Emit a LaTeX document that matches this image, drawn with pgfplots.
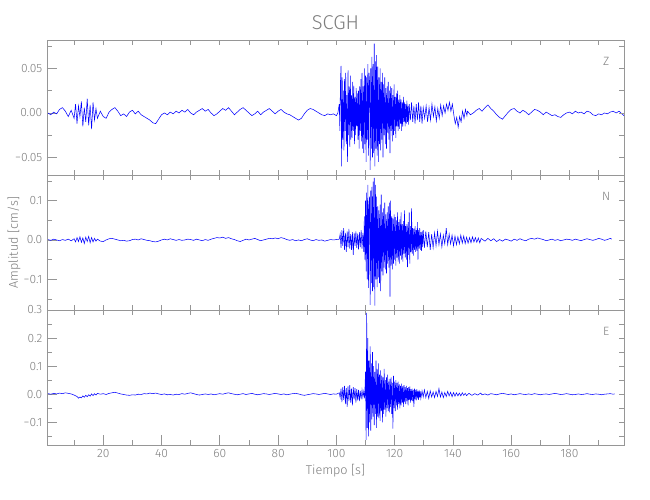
\documentclass[border=0pt]{standalone}
\usepackage{fontspec}
\setmainfont{Fira Sans}[UprightFont={* Light}]
\usepackage{pgfplots}
\pgfplotsset{compat=1.18}

\definecolor{axgray}{RGB}{150,150,150}
\definecolor{txtgray}{RGB}{125,125,125}
\definecolor{trace}{RGB}{0,0,255}

\pgfplotsset{
  seis/.style={
    scale only axis, width=432.75pt, height=101.25pt,
    anchor=north west, xmin=0.7, xmax=198.7,
    scaled y ticks=false, scaled x ticks=false,
    axis line style={axgray, line width=0.5pt},
    tick style={axgray, line width=0.5pt},
    tick label style={txtgray, font=\fontsize{9}{10}\selectfont},
    xtick={20,40,...,180}, minor xtick={10,30,...,190},
  },
  longticks/.style={major tick length=7.5pt, minor tick length=3.75pt},
  shortticks/.style={major tick length=3.5pt, minor tick length=3.5pt,
    xticklabels={}, yticklabels={}, clip=false},
  sig/.style={trace, line width=0.4pt},
}

\begin{document}
\begin{tikzpicture}
\useasboundingbox (0,0) rectangle (487.5pt,-375pt);

% ---------------- Z ----------------
\begin{axis}[seis, longticks, at={(35.25pt,-30pt)},
  ymin=-0.0697, ymax=0.082,
  ytick={-0.05,0,0.05}, yticklabels={−0.05,0.00,0.05},
  minor ytick={-0.075,-0.025,0.025,0.075},
  ytick pos=left, xtick=\empty]
\addplot[sig] coordinates {
(1,0.000)(2,-0.002)(3,0.001)(4,-0.001)(5,0.004)(6,0.006)(7,0.002)(8,-0.004)(9,0.003)(10,-0.006)
(10.5,0.010)(11,-0.012)(11.5,0.008)(12,-0.004)(12.5,0.013)(13,-0.015)(13.5,0.006)(14,-0.010)(14.5,0.016)(15,-0.014)
(15.5,0.009)(16,-0.018)(16.5,0.012)(17,-0.008)(17.5,0.005)(18,-0.006)(19,0.002)(20,-0.004)(21,-0.006)(22,0.001)
(23,0.004)(24,0.006)(25,0.002)(26,-0.003)(27,-0.001)(28,-0.004)(29,0.001)(30,0.003)(31,-0.001)(32,0.002)
(33,-0.002)(34,-0.004)(35,-0.006)(36,-0.008)(37,-0.011)(38,-0.012)(39,-0.007)(40,-0.002)(41,0.000)(42,-0.002)
(43,0.001)(44,-0.001)(45,0.002)(46,0.000)(47,0.003)(48,0.001)(49,0.004)(50,0.000)(51,-0.002)(52,0.001)
(53,0.003)(54,0.005)(55,0.002)(56,0.004)(57,0.000)(58,-0.003)(59,-0.001)(60,0.002)(61,0.005)(62,0.003)
(63,0.006)(64,0.002)(65,-0.002)(66,0.001)(67,0.004)(68,0.006)(69,0.003)(70,0.000)(71,-0.003)(72,-0.001)
(73,0.002)(74,-0.002)(75,0.001)(76,0.003)(77,0.005)(78,0.002)(79,-0.001)(80,0.002)(81,0.004)(82,0.001)
(83,-0.001)(84,-0.002)(85,-0.004)(86,-0.006)(87,-0.008)(88,-0.006)(89,-0.001)(90,0.003)(91,0.005)(92,0.004)
(93,0.002)(94,0.000)(95,-0.002)(96,-0.003)(97,-0.001)(98,-0.002)(99,-0.001)(100,-0.003)(100.5,0.000)
(101.0,0.010)(101.2,-0.020)(101.4,0.035)(101.6,0.053)(101.8,-0.060)(102.0,0.040)(102.2,-0.030)(102.4,0.025)
(102.6,-0.042)(102.8,0.038)(103.0,-0.020)(103.2,0.045)(103.4,-0.035)(103.6,0.020)(103.8,-0.055)(104.0,0.048)
(104.2,-0.025)(104.4,0.030)(104.6,-0.038)(104.8,0.042)(105.0,-0.030)(105.2,0.020)(105.4,-0.028)(105.6,0.035)
(105.8,-0.020)(106.0,0.030)(106.2,-0.035)(106.4,0.018)(106.6,-0.025)(106.8,0.028)(107.0,-0.015)(107.2,0.022)
(107.4,-0.030)(107.6,0.025)(107.8,-0.040)(108.0,0.030)(108.2,-0.020)(108.4,0.038)(108.6,-0.032)(108.8,0.045)
(109.0,-0.040)(109.2,0.030)(109.4,-0.045)(109.6,0.050)(109.8,-0.035)(110.0,0.042)(110.2,-0.055)(110.4,0.040)
(110.6,-0.030)(110.8,0.055)(111.0,-0.048)(111.2,0.045)(111.4,0.035)(111.6,-0.064)(111.8,0.050)(112.0,-0.040)
(112.2,0.063)(112.4,-0.050)(112.6,0.055)(112.8,-0.045)(113.0,0.078)(113.2,-0.060)(113.4,0.058)(113.6,-0.040)
(113.8,0.065)(114.0,-0.048)(114.2,0.052)(114.4,-0.055)(114.6,0.040)(114.8,-0.035)(115.0,0.050)(115.2,-0.042)
(115.4,0.035)(115.6,-0.030)(115.8,0.045)(116.0,-0.050)(116.2,0.032)(116.4,-0.025)(116.6,0.040)(116.8,-0.035)
(117.0,0.028)(117.2,-0.040)(117.4,0.030)(117.6,-0.022)(117.8,0.035)(118.0,-0.030)(118.2,0.025)(118.4,-0.045)
(118.6,0.030)(118.8,-0.020)(119.0,0.028)(119.2,-0.032)(119.4,0.020)(119.6,-0.025)(119.8,0.032)(120.0,-0.020)
(120.2,0.018)(120.4,-0.028)(120.6,0.022)(120.8,-0.015)(121.0,0.025)(121.2,-0.020)(121.4,0.015)(121.6,-0.018)
(121.8,0.020)(122.0,-0.012)(122.2,0.015)(122.4,-0.020)(122.6,0.012)(122.8,-0.015)(123.0,0.018)(123.2,-0.010)
(123.4,0.012)(123.6,-0.015)(123.8,0.010)(124.0,-0.012)(124.2,0.014)(124.4,-0.010)(124.6,0.008)(124.8,-0.013)
(125.0,0.010)(125.4,-0.008)(125.8,0.012)(126.2,-0.010)(126.6,0.008)(127.0,-0.012)(127.4,0.010)(127.8,-0.008)
(128.2,0.012)(128.6,-0.010)(129.0,0.008)(129.4,-0.012)(129.8,0.006)
(130.3,-0.006)(130.8,0.008)(131.3,-0.010)(131.8,0.006)(132.3,-0.008)(132.8,0.010)(133.3,-0.004)(133.8,0.007)
(134.3,-0.009)(134.8,0.005)(135.3,-0.006)(135.8,0.009)(136.3,-0.003)(136.8,0.008)(137.3,0.000)(137.8,0.010)
(138.3,0.003)(138.8,0.012)(139.3,0.002)(139.8,0.010)(140.3,-0.002)(140.8,-0.012)(141.3,-0.005)(141.8,-0.016)
(142.3,-0.004)(142.8,-0.010)(143.3,0.002)(143.8,-0.006)(144.3,0.004)(144.8,-0.003)
(145,0.002)(146,-0.002)(147,0.000)(148,0.003)(149,0.005)(150,0.002)(151,0.006)(152,0.009)(153,0.005)(154,0.002)
(155,-0.002)(156,-0.005)(157,-0.007)(158,-0.003)(159,0.001)(160,0.004)(161,0.005)(162,0.002)(163,0.000)(164,0.003)
(165,0.001)(166,-0.002)(167,0.001)(168,0.004)(169,0.003)(170,0.001)(171,-0.002)(172,0.001)(173,-0.001)(174,-0.003)
(175,-0.002)(176,-0.004)(177,-0.005)(178,-0.002)(179,0.000)(180,0.001)(181,-0.001)(182,0.002)(183,0.000)(184,0.001)
(185,-0.001)(186,0.002)(187,0.001)(188,-0.002)(189,-0.003)(190,-0.001)(191,-0.002)(192,0.000)(193,-0.001)(194,0.001)
(195,0.002)(196,0.000)(197,0.002)(198,-0.001)(198.7,-0.003)
};
\end{axis}
\begin{axis}[seis, shortticks, at={(35.25pt,-30pt)},
  ymin=-0.0697, ymax=0.082,
  ytick={-0.05,0,0.05}, minor ytick={-0.075,-0.025,0.025,0.075},
  ytick pos=right, xtick pos=both]
\node[txtgray, font=\fontsize{9}{10}\selectfont] at (rel axis cs:0.969,0.844) {Z};
\end{axis}

% ---------------- N ----------------
\begin{axis}[seis, longticks, at={(35.25pt,-131.25pt)},
  ymin=-0.178, ymax=0.165,
  ytick={-0.1,0,0.1}, yticklabels={−0.1,0.0,0.1},
  minor ytick={-0.15,-0.05,0.05,0.15},
  ytick pos=left, xtick=\empty]
\addplot[sig] coordinates {
(1,0.001)(2,-0.001)(3,0.002)(4,0.000)(5,-0.002)(6,0.001)(7,-0.001)(8,0.002)(9,-0.002)(10,0.003)
(10.5,-0.005)(11,0.006)(11.5,-0.004)(12,0.008)(12.5,-0.006)(13,0.005)(13.5,-0.009)(14,0.007)(14.5,-0.004)(15,0.009)
(15.5,-0.007)(16,0.006)(16.5,-0.005)(17,0.004)(17.5,-0.003)(18,0.002)(19,-0.003)(20,-0.004)(21,0.000)(22,0.003)
(23,0.004)(24,0.002)(25,0.000)(26,-0.002)(27,-0.001)(28,-0.003)(29,-0.002)(30,0.001)(31,0.002)(32,0.000)
(33,0.003)(34,0.001)(35,-0.001)(36,-0.002)(37,-0.004)(38,-0.005)(39,-0.003)(40,0.000)(41,0.002)(42,0.000)
(43,0.003)(44,0.001)(45,-0.001)(46,0.001)(47,-0.001)(48,0.000)(49,0.002)(50,0.001)(51,-0.001)(52,0.002)
(53,0.000)(54,-0.002)(55,0.001)(56,-0.001)(57,0.002)(58,0.004)(59,0.006)(60,0.005)(61,0.007)(62,0.004)
(63,0.006)(64,0.003)(65,0.001)(66,-0.002)(67,-0.004)(68,-0.001)(69,0.002)(70,0.000)(71,0.002)(72,0.004)
(73,0.001)(74,-0.002)(75,0.000)(76,0.002)(77,0.004)(78,0.003)(79,0.005)(80,0.003)(81,0.006)(82,0.004)
(83,0.001)(84,-0.001)(85,0.001)(86,-0.002)(87,0.000)(88,-0.002)(89,0.001)(90,0.003)(91,0.000)(92,-0.002)
(93,0.001)(94,-0.001)(95,0.000)(96,-0.003)(97,-0.001)(98,0.001)(99,0.000)(100,0.001)
(101.0,0.002)(101.3,0.015)(101.6,-0.020)(101.9,0.025)(102.2,-0.015)(102.5,0.030)(102.8,-0.025)(103.1,0.018)
(103.4,-0.030)(103.7,0.022)(104.0,-0.018)(104.3,0.028)(104.6,-0.022)(104.9,0.015)(105.2,-0.025)(105.5,0.020)
(105.8,-0.038)(106.1,0.018)(106.4,-0.015)(106.7,0.022)(107.0,-0.020)(107.3,0.016)(107.6,-0.024)(107.9,0.020)
(108.2,-0.018)(108.5,0.025)(108.8,-0.022)(109.1,0.018)(109.4,-0.030)
(109.6,0.060)(109.8,-0.050)(110.0,0.100)(110.2,-0.080)(110.4,0.120)(110.6,-0.100)(110.8,0.140)(111.0,-0.122)
(111.2,0.090)(111.4,0.110)(111.6,-0.165)(111.8,0.125)(112.0,-0.110)(112.2,0.135)(112.4,-0.130)(112.6,0.148)
(112.8,-0.120)(113.0,0.158)(113.2,-0.167)(113.4,0.140)(113.6,-0.100)(113.8,0.110)(114.0,-0.120)(114.2,0.085)
(114.4,-0.095)(114.6,0.075)(114.8,-0.110)(115.0,0.090)(115.2,-0.130)(115.4,0.115)(115.6,-0.080)(115.8,0.070)
(116.0,-0.090)(116.2,0.080)(116.4,-0.070)(116.6,0.095)(116.8,-0.075)(117.0,0.065)(117.2,-0.085)(117.4,0.070)
(117.6,-0.060)(117.8,0.085)(118.0,-0.070)(118.2,0.095)(118.4,-0.144)(118.6,0.100)(118.8,-0.065)(119.0,0.060)
(119.2,-0.075)(119.4,0.055)(119.6,-0.060)(119.8,0.065)(120.0,-0.050)(120.2,0.058)(120.4,-0.065)(120.6,0.050)
(120.8,-0.045)(121.0,0.070)(121.2,-0.055)(121.4,0.045)(121.6,-0.060)(121.8,0.052)(122.0,-0.040)(122.2,0.070)
(122.4,-0.050)(122.6,0.040)(122.8,-0.055)(123.0,0.048)(123.2,-0.035)(123.4,0.075)(123.6,-0.045)(123.8,0.035)
(124.0,-0.050)(124.2,0.040)(124.4,-0.069)(124.6,0.045)(124.8,-0.038)(125.0,0.070)(125.2,-0.060)(125.4,0.035)
(125.6,-0.030)(125.8,0.080)(126.0,-0.035)(126.2,0.030)(126.4,-0.040)(126.6,0.028)(126.8,-0.025)(127.0,0.035)
(127.2,-0.030)(127.4,0.025)(127.6,-0.028)(127.8,0.045)(128.0,-0.050)(128.2,0.025)(128.4,-0.022)(128.6,0.030)
(128.8,-0.025)(129.0,0.020)(129.2,-0.028)(129.4,0.022)(129.6,-0.018)(129.8,0.025)
(130.2,-0.020)(130.7,0.022)(131.2,-0.018)(131.7,0.020)(132.2,-0.025)(132.7,0.015)(133.2,-0.020)(133.7,0.018)
(134.2,-0.015)(134.7,0.022)(135.2,-0.012)(135.7,0.015)(136.2,-0.018)(136.7,0.012)(137.2,-0.010)(137.7,0.030)
(138.2,-0.012)(138.7,0.015)(139.2,-0.010)(139.7,0.012)(140.2,-0.015)(140.7,0.010)(141.2,-0.012)(141.7,0.008)
(142.2,-0.010)(142.7,0.012)(143.2,-0.008)(143.7,0.010)(144.2,-0.009)(144.7,0.007)(145.2,-0.008)(145.7,0.006)
(146.2,-0.007)(146.7,0.008)(147.2,-0.005)(147.7,0.006)(148.2,-0.006)(148.7,0.005)(149.2,-0.007)(149.7,0.004)
(150,0.002)(151,-0.003)(152,0.004)(153,-0.002)(154,0.003)(155,-0.004)(156,0.001)(157,-0.003)(158,0.002)(159,0.000)
(160,-0.003)(161,0.002)(162,-0.001)(163,0.003)(164,0.000)(165,-0.002)(166,0.002)(167,0.004)(168,0.002)(169,0.005)
(170,0.003)(171,0.001)(172,-0.002)(173,0.000)(174,0.002)(175,-0.001)(176,0.001)(177,-0.002)(178,0.000)(179,0.002)
(180,0.001)(181,-0.001)(182,0.002)(183,0.000)(184,-0.002)(185,0.001)(186,0.003)(187,0.001)(188,-0.001)(189,0.001)
(190,0.004)(191,0.002)(192,-0.001)(193,0.001)(194,0.004)(194.5,0.002)
};
\end{axis}
\begin{axis}[seis, shortticks, at={(35.25pt,-131.25pt)},
  ymin=-0.178, ymax=0.165,
  ytick={-0.1,0,0.1}, minor ytick={-0.15,-0.05,0.05,0.15},
  ytick pos=right, xtick pos=both]
\node[txtgray, font=\fontsize{9}{10}\selectfont] at (rel axis cs:0.969,0.844) {N};
\end{axis}

% ---------------- E ----------------
\begin{axis}[seis, longticks, at={(35.25pt,-232.5pt)},
  ymin=-0.181, ymax=0.3,
  ytick={-0.1,0,0.1,0.2,0.3}, yticklabels={−0.1,0.0,0.1,0.2,0.3},
  minor ytick={-0.15,-0.05,0.05,0.15,0.25},
  ytick pos=left, xtick pos=bottom,
  xticklabels={20,40,60,80,100,120,140,160,180}]
\addplot[sig] coordinates {
(1,0.002)(2,0.000)(3,0.003)(4,0.001)(5,0.004)(6,0.002)(7,0.005)(8,0.003)(9,0.001)(10,-0.003)
(11,-0.008)(11.5,-0.014)(12,-0.010)(12.5,-0.013)(13,-0.006)(13.5,-0.011)(14,-0.004)(14.5,-0.009)(15,-0.002)(15.5,-0.007)
(16,0.001)(16.5,-0.005)(17,0.002)(17.5,-0.003)(18,0.003)(19,0.000)(20,0.002)(21,-0.001)(22,0.003)(23,0.005)
(24,0.007)(25,0.004)(26,0.001)(27,-0.001)(28,-0.003)(29,-0.004)(30,-0.002)(31,-0.003)(32,0.000)(33,-0.001)
(34,0.002)(35,0.001)(36,0.004)(37,0.002)(38,0.004)(39,0.001)(40,-0.001)(41,0.001)(42,-0.002)(43,-0.001)
(44,-0.003)(45,0.000)(46,-0.001)(47,0.002)(48,0.000)(49,0.003)(50,0.005)(51,0.002)(52,-0.001)(53,-0.003)
(54,-0.001)(55,0.001)(56,-0.001)(57,0.001)(58,-0.002)(59,0.000)(60,0.002)(61,0.000)(62,0.003)(63,0.005)
(64,0.002)(65,0.000)(66,-0.002)(67,0.000)(68,0.002)(69,-0.001)(70,0.001)(71,0.003)(72,0.000)(73,-0.002)
(74,0.000)(75,0.002)(76,0.001)(77,-0.001)(78,0.001)(79,0.003)(80,0.001)(81,-0.001)(82,0.001)(83,-0.002)
(84,0.000)(85,0.002)(86,0.003)(87,0.001)(88,-0.002)(89,-0.004)(90,-0.002)(91,0.000)(92,0.002)(93,0.001)
(94,-0.001)(95,0.001)(96,0.003)(97,0.001)(98,-0.001)(99,0.001)(100,0.000)
(101.0,0.005)(101.3,-0.012)(101.6,0.020)(101.9,-0.028)(102.2,0.025)(102.5,-0.020)(102.8,0.030)(103.1,-0.035)
(103.4,0.022)(103.7,-0.045)(104.0,0.028)(104.3,-0.025)(104.6,0.032)(104.9,-0.030)(105.2,0.020)(105.5,-0.040)
(105.8,0.025)(106.1,-0.018)(106.4,0.022)(106.7,-0.030)(107.0,0.018)(107.3,-0.022)(107.6,0.015)(107.9,-0.025)
(108.2,0.012)(108.5,-0.018)(108.8,0.015)(109.1,-0.012)(109.4,0.010)(109.7,-0.015)
(110.0,0.080)(110.2,-0.163)(110.4,0.290)(110.6,-0.120)(110.8,0.200)(111.0,-0.150)(111.2,0.120)(111.4,-0.100)
(111.6,0.170)(111.8,-0.130)(112.0,0.110)(112.2,-0.090)(112.4,0.150)(112.6,-0.080)(112.8,0.100)(113.0,-0.110)
(113.2,0.080)(113.4,-0.070)(113.6,0.120)(113.8,-0.120)(114.0,0.090)(114.2,-0.080)(114.4,0.110)(114.6,-0.085)
(114.8,0.070)(115.0,-0.095)(115.2,0.085)(115.4,-0.060)(115.6,0.065)(115.8,-0.100)(116.0,0.060)(116.2,-0.070)
(116.4,0.090)(116.6,-0.055)(116.8,0.050)(117.0,-0.080)(117.2,0.060)(117.4,-0.050)(117.6,0.070)(117.8,-0.060)
(118.0,0.045)(118.2,-0.065)(118.4,0.055)(118.6,-0.045)(118.8,0.060)(119.0,-0.070)(119.2,0.040)(119.4,-0.123)
(119.6,0.065)(119.8,-0.050)(120.0,0.045)(120.2,-0.060)(120.4,0.050)(120.6,-0.040)(120.8,0.040)(121.0,-0.055)
(121.2,0.045)(121.4,-0.035)(121.6,0.035)(121.8,-0.050)(122.0,0.030)(122.2,-0.040)(122.4,0.038)(122.6,-0.030)
(122.8,0.028)(123.0,-0.045)(123.2,0.032)(123.4,-0.028)(123.6,0.025)(123.8,-0.035)(124.0,0.030)(124.2,-0.025)
(124.4,0.022)(124.6,-0.040)(124.8,0.025)(125.0,-0.020)(125.2,0.028)(125.4,-0.030)(125.6,0.018)(125.8,-0.022)
(126.0,0.020)(126.2,-0.025)(126.4,0.015)(126.6,-0.045)(126.8,0.020)(127.0,-0.018)(127.2,0.015)(127.4,-0.022)
(127.6,0.018)(127.8,-0.015)(128.0,0.012)(128.2,-0.020)(128.4,0.015)(128.6,-0.012)(128.8,0.010)(129.0,-0.015)
(129.4,0.012)(129.8,-0.010)
(130.2,0.015)(130.7,-0.012)(131.2,0.010)(131.7,-0.015)(132.2,0.012)(132.7,-0.010)(133.2,0.008)(133.7,-0.012)
(134.2,0.010)(134.7,-0.008)(135.2,0.020)(135.7,-0.010)(136.2,0.008)(136.7,-0.012)(137.2,0.006)(137.7,-0.008)
(138.2,0.010)(138.7,-0.006)(139.2,0.007)(139.7,-0.009)(140.2,0.006)(140.7,-0.007)(141.2,0.005)(141.7,-0.006)
(142.2,0.004)(142.7,-0.006)(143.2,0.005)(143.7,-0.004)(144.2,0.003)(144.7,-0.005)(145.5,0.003)(146.5,-0.004)
(147.5,0.002)(148.5,-0.003)(149.5,0.004)
(150,-0.002)(151,0.001)(152,-0.003)(153,0.002)(154,0.000)(155,-0.002)(156,0.001)(157,0.003)(158,0.001)(159,-0.001)
(160,0.001)(161,-0.002)(162,0.000)(163,0.002)(164,0.000)(165,-0.001)(166,0.001)(167,-0.001)(168,0.002)(169,0.000)
(170,-0.002)(171,0.000)(172,0.001)(173,-0.001)(174,0.001)(175,0.003)(176,0.001)(177,-0.001)(178,0.000)(179,0.002)
(180,0.000)(181,-0.002)(182,-0.001)(183,0.001)(184,-0.001)(185,0.000)(186,0.002)(187,0.000)(188,-0.001)(189,0.001)
(190,0.000)(191,-0.002)(192,0.000)(193,0.001)(194,0.002)(195,0.000)(195.5,0.001)
};
\end{axis}
\begin{axis}[seis, shortticks, at={(35.25pt,-232.5pt)},
  ymin=-0.181, ymax=0.3,
  ytick={-0.1,0,0.1,0.2,0.3}, minor ytick={-0.15,-0.05,0.05,0.15,0.25},
  ytick pos=right, xtick pos=top]
\node[txtgray, font=\fontsize{9}{10}\selectfont] at (rel axis cs:0.969,0.844) {E};
\end{axis}

% titles and labels
\node[txtgray, font=\fontsize{15}{16}\selectfont] at (251.6pt,-17.25pt) {SCGH};
\node[txtgray, font=\fontsize{9.5}{10}\selectfont] at (251.6pt,-353.25pt) {Tiempo [s]};
\node[txtgray, font=\fontsize{9.5}{10}\selectfont, rotate=90] at (10.5pt,-181.9pt) {Amplitud [cm/s]};
\end{tikzpicture}
\end{document}
